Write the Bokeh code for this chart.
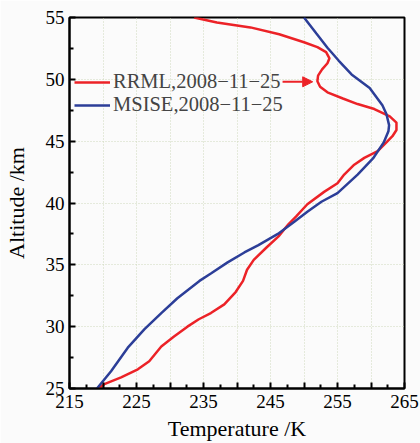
from bokeh.plotting import figure
from bokeh.models import (Range1d, FixedTicker, Legend, LegendItem, Arrow, NormalHead)
from bokeh.embed import file_html
from bokeh.resources import INLINE

# ---- data ----
rrml_temp = [219.3, 220.2, 222.7, 225.2, 226.9, 228.7, 230.6, 232.6, 234.3, 236.1,
             238.1, 239.8, 240.9, 241.5, 242.5, 244.4, 246.2, 247.7, 248.8, 250.5,
             253.0, 255.0, 256.0, 257.5, 259.0, 261.0, 262.3, 263.2, 263.8, 263.8,
             262.8, 260.5, 258.0, 255.8, 253.5, 252.4, 252.0, 252.1, 252.7, 253.5,
             253.8, 253.3, 252.0, 250.0, 246.3, 242.0, 237.0, 233.6]
rrml_alt = [25.0, 25.35, 25.9, 26.55, 27.2, 28.4, 29.2, 30.0, 30.6, 31.1,
            31.8, 32.8, 33.7, 34.6, 35.4, 36.4, 37.3, 38.3, 38.9, 39.9,
            40.9, 41.6, 42.3, 43.1, 43.65, 44.2, 44.9, 45.4, 45.9, 46.5,
            47.0, 47.6, 48.0, 48.45, 48.95, 49.4, 49.85, 50.3, 50.8, 51.3,
            51.7, 52.2, 52.6, 53.0, 53.65, 54.2, 54.6, 55.0]

msise_temp = [219.1, 221.2, 223.7, 226.2, 228.7, 231.1, 234.4, 236.1, 238.6, 241.1,
              243.2, 246.1, 248.6, 250.5, 252.6, 255.0, 258.0, 260.3, 261.9, 262.6,
              262.7, 262.3, 261.7, 259.8, 257.1, 255.2, 253.5, 251.85, 250.0]
msise_alt = [25.0, 26.4, 28.3, 29.8, 31.1, 32.3, 33.7, 34.3, 35.2, 36.0,
             36.6, 37.5, 38.5, 39.3, 40.1, 40.8, 42.3, 43.6, 44.9, 45.8,
             46.3, 47.2, 47.9, 49.3, 50.4, 51.5, 52.55, 53.7, 55.0]

x_major = [215, 220, 225, 230, 235, 240, 245, 250, 255, 260, 265]
x_labels = {220: "", 230: "", 240: "", 250: "", 260: ""}
x_minor = [217.5, 222.5, 227.5, 232.5, 237.5, 242.5, 247.5, 252.5, 257.5, 262.5]
y_major = [25, 30, 35, 40, 45, 50, 55]
y_minor = [27.5, 32.5, 37.5, 42.5, 47.5, 52.5]

legend_labels = ["RRML,2008\u221211\u221225", "MSISE,2008\u221211\u221225"]
arrow_temp = [246.8, 251.3]
arrow_alt = 49.8

RED = "#ec2227"
BLUE = "#2c3e98"
FONT = "Liberation Serif"
BG = "#fbfbfb"

p = figure(width=420, height=443, output_backend="svg", toolbar_location=None,
           x_range=Range1d(215, 265), y_range=Range1d(25, 55),
           min_border_left=68, min_border_right=16, min_border_top=17, min_border_bottom=55,
           background_fill_color=BG, border_fill_color=BG)

p.outline_line_color = "black"
p.outline_line_width = 2

for ax in (p.xaxis[0], p.yaxis[0]):
    ax.axis_line_width = 2
    ax.major_tick_in = 6
    ax.major_tick_out = 0
    ax.minor_tick_in = 4
    ax.minor_tick_out = 0
    ax.major_tick_line_width = 2
    ax.minor_tick_line_width = 2
    ax.major_label_text_font = FONT
    ax.major_label_text_font_size = "19px"
    ax.major_label_text_color = "black"
    ax.axis_label_text_font = FONT
    ax.axis_label_text_font_size = "22px"
    ax.axis_label_text_font_style = "normal"
    ax.axis_label_text_color = "black"

p.xaxis[0].ticker = FixedTicker(ticks=x_major, minor_ticks=x_minor)
p.xaxis[0].major_label_overrides = x_labels
p.yaxis[0].ticker = FixedTicker(ticks=y_major, minor_ticks=y_minor)
p.xaxis[0].axis_label = "Temperature /K"
p.yaxis[0].axis_label = "Altitude /km"
p.xaxis[0].major_label_standoff = 6
p.xaxis[0].axis_label_standoff = 5
p.yaxis[0].major_label_standoff = 5
p.yaxis[0].axis_label_standoff = 14

p.xgrid.grid_line_color = "#cfd8bc"
p.xgrid.grid_line_dash = "1 2"
p.ygrid.grid_line_color = "#cfd8bc"
p.ygrid.grid_line_dash = "1 2"

r1 = p.line(rrml_temp, rrml_alt, line_color=RED, line_width=2.5)
r2 = p.line(msise_temp, msise_alt, line_color=BLUE, line_width=2.5)

legend = Legend(items=[LegendItem(label=legend_labels[0], renderers=[r1]),
                       LegendItem(label=legend_labels[1], renderers=[r2])],
                location=(5, 272), margin=0, padding=0, spacing=0,
                glyph_width=36, glyph_height=22, label_height=22, label_standoff=3,
                label_text_font=FONT, label_text_font_size="20.5px",
                border_line_alpha=0, background_fill_alpha=0)
p.add_layout(legend)

p.add_layout(Arrow(x_start=arrow_temp[0], y_start=arrow_alt, x_end=arrow_temp[1], y_end=arrow_alt,
                   line_color=RED, line_width=2,
                   end=NormalHead(size=10, fill_color=RED, line_color=RED)))

open("out.html", "w").write(file_html(p, INLINE))
